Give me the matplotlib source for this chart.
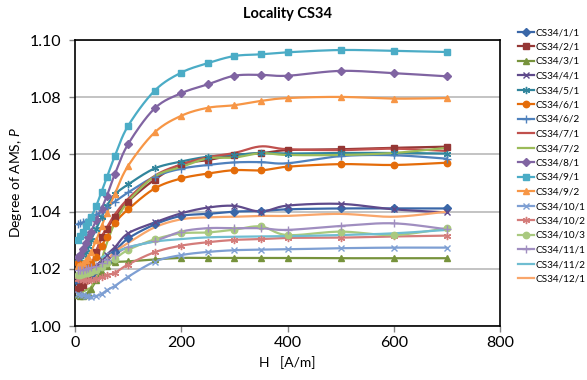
import numpy as np
import matplotlib
matplotlib.use("Agg")
import matplotlib.pyplot as plt
from matplotlib.lines import Line2D

plt.rcParams['font.family'] = ['Lato', 'DejaVu Sans']
plt.rcParams['mathtext.fontset'] = 'custom'
plt.rcParams['mathtext.it'] = 'Lato:italic'
plt.rcParams['mathtext.rm'] = 'Lato'

# applied field steps [A/m]
H = [5, 10, 15, 20, 25, 30, 40, 50, 60, 75, 100, 150, 200, 250, 300, 350, 400, 500, 600, 700]

labels = ["CS34/1/1", "CS34/2/1", "CS34/3/1", "CS34/4/1", "CS34/5/1", "CS34/6/1",
          "CS34/6/2", "CS34/7/1", "CS34/7/2", "CS34/8/1", "CS34/9/1", "CS34/9/2",
          "CS34/10/1", "CS34/10/2", "CS34/10/3", "CS34/11/1", "CS34/11/2", "CS34/12/1"]

p_1_1 = [1.0155, 1.016, 1.0165, 1.017, 1.0175, 1.018, 1.0195, 1.021, 1.0225, 1.026, 1.0306, 1.0355, 1.0385, 1.0392, 1.0400, 1.0402, 1.0408, 1.0411, 1.0411, 1.0411]
p_2_1 = [1.013, 1.0135, 1.0145, 1.016, 1.018, 1.020, 1.026, 1.031, 1.034, 1.038, 1.0435, 1.0512, 1.0565, 1.058, 1.0598, 1.0604, 1.0615, 1.0618, 1.0623, 1.0627]
p_3_1 = [1.0108, 1.0106, 1.0106, 1.0108, 1.0115, 1.0128, 1.016, 1.019, 1.021, 1.0223, 1.0226, 1.0233, 1.0238, 1.0238, 1.0238, 1.0238, 1.0238, 1.0237, 1.0237, 1.0237]
p_4_1 = [1.0175, 1.0177, 1.0179, 1.018, 1.0185, 1.019, 1.021, 1.023, 1.025, 1.0275, 1.0324, 1.0362, 1.0394, 1.0414, 1.042, 1.040, 1.0421, 1.0427, 1.0408, 1.0397]
p_5_1 = [1.0225, 1.0235, 1.025, 1.026, 1.028, 1.030, 1.034, 1.038, 1.042, 1.046, 1.0495, 1.0551, 1.0575, 1.0592, 1.0598, 1.0605, 1.0603, 1.0605, 1.0605, 1.0603]
p_6_1 = [1.022, 1.0215, 1.021, 1.021, 1.0213, 1.022, 1.024, 1.028, 1.031, 1.036, 1.0408, 1.0481, 1.0516, 1.0533, 1.0545, 1.0544, 1.0557, 1.0566, 1.0563, 1.0571]
p_6_2 = [1.0355, 1.036, 1.0362, 1.0365, 1.037, 1.0375, 1.039, 1.040, 1.0415, 1.0435, 1.0467, 1.0522, 1.0550, 1.0563, 1.0572, 1.0573, 1.0569, 1.0594, 1.0597, 1.0585]
p_7_1 = [1.0155, 1.016, 1.0165, 1.0175, 1.019, 1.021, 1.026, 1.031, 1.0345, 1.039, 1.0445, 1.0525, 1.0565, 1.059, 1.0605, 1.0628, 1.0618, 1.0615, 1.062, 1.0612]
p_7_2 = [1.0115, 1.0115, 1.012, 1.0125, 1.013, 1.0135, 1.017, 1.023, 1.029, 1.036, 1.0435, 1.0523, 1.0556, 1.0586, 1.0589, 1.0604, 1.0598, 1.0598, 1.0605, 1.0623]
p_8_1 = [1.024, 1.025, 1.027, 1.029, 1.031, 1.033, 1.037, 1.041, 1.0455, 1.0531, 1.0636, 1.0761, 1.0814, 1.0845, 1.0875, 1.0878, 1.0875, 1.0892, 1.0884, 1.0873]
p_9_1 = [1.030, 1.0315, 1.033, 1.035, 1.0365, 1.038, 1.042, 1.047, 1.052, 1.0594, 1.070, 1.0823, 1.0886, 1.0919, 1.0944, 1.095, 1.0957, 1.0965, 1.0962, 1.0958]
p_9_2 = [1.021, 1.0215, 1.022, 1.023, 1.024, 1.026, 1.030, 1.035, 1.0396, 1.0462, 1.056, 1.0677, 1.0735, 1.0763, 1.0772, 1.0787, 1.0797, 1.0801, 1.0795, 1.0797]
p_10_1 = [1.0113, 1.011, 1.0108, 1.0105, 1.0104, 1.0103, 1.0105, 1.0112, 1.0125, 1.014, 1.0172, 1.0225, 1.0248, 1.0259, 1.0265, 1.0267, 1.0268, 1.0272, 1.0274, 1.0274]
p_10_2 = [1.0165, 1.0165, 1.0162, 1.016, 1.016, 1.016, 1.0165, 1.017, 1.0178, 1.0186, 1.0215, 1.0258, 1.0281, 1.0293, 1.0301, 1.0304, 1.0308, 1.0309, 1.0313, 1.0316]
p_10_3 = [1.018, 1.018, 1.0182, 1.0185, 1.0187, 1.019, 1.0195, 1.0205, 1.022, 1.0235, 1.0266, 1.0303, 1.0324, 1.0327, 1.0337, 1.0348, 1.0318, 1.033, 1.0318, 1.0342]
p_11_1 = [1.0195, 1.0195, 1.0197, 1.020, 1.0202, 1.0205, 1.021, 1.022, 1.023, 1.025, 1.0275, 1.0297, 1.033, 1.0342, 1.0342, 1.0342, 1.0336, 1.035, 1.0359, 1.0338]
p_11_2 = [1.0195, 1.020, 1.0205, 1.021, 1.0215, 1.022, 1.023, 1.024, 1.025, 1.026, 1.0275, 1.0295, 1.0304, 1.031, 1.0312, 1.0313, 1.0314, 1.0318, 1.0324, 1.0336]
p_12_1 = [1.0135, 1.014, 1.0142, 1.0145, 1.015, 1.016, 1.018, 1.021, 1.023, 1.026, 1.029, 1.0345, 1.0373, 1.038, 1.0382, 1.0385, 1.0385, 1.0392, 1.0382, 1.040]

series = [p_1_1, p_2_1, p_3_1, p_4_1, p_5_1, p_6_1, p_6_2, p_7_1, p_7_2,
          p_8_1, p_9_1, p_9_2, p_10_1, p_10_2, p_10_3, p_11_1, p_11_2, p_12_1]

colors = ['#3A67A8', '#953735', '#77933C', '#5F4A8B', '#31859C', '#E46C0A',
          '#4F81BD', '#C0504D', '#9BBB59', '#8064A2', '#4BACC6', '#F79646',
          '#7E9FD3', '#D47C7A', '#A9C97F', '#A08EC0', '#6FBDD1', '#F9A66B']

star = (6, 2, 0)
markers = ['D', 's', '^', 'x', star, 'o', '+', None, None,
           'D', 's', '^', 'x', star, 'o', '+', None, None]
msizes = {'D': 3.8, 's': 4.6, '^': 4.6, 'x': 4.2, star: 5.2, 'o': 4.6, '+': 6, None: 0}


def smooth(ax, x, y, n=16):
    # Catmull-Rom / Bezier smoothing done in display space
    pts = ax.transData.transform(np.column_stack([x, y]))
    out = [pts[0]]
    for i in range(len(pts) - 1):
        p0 = pts[i - 1] if i > 0 else pts[i]
        p1 = pts[i]
        p2 = pts[i + 1]
        p3 = pts[i + 2] if i + 2 < len(pts) else pts[i + 1]
        c1 = p1 + (p2 - p0) / 6.0
        c2 = p2 - (p3 - p1) / 6.0
        t = np.linspace(0, 1, n)[1:, None]
        seg = ((1 - t) ** 3) * p1 + 3 * ((1 - t) ** 2) * t * c1 + 3 * (1 - t) * t ** 2 * c2 + t ** 3 * p2
        out.extend(seg)
    out = ax.transData.inverted().transform(np.array(out))
    return out[:, 0], out[:, 1]


fig = plt.figure(figsize=(5.87, 3.80), dpi=100)
ax = fig.add_axes([75 / 587, 1 - 326 / 380, 425 / 587, 286 / 380])
ax.set_xlim(0, 800)
ax.set_ylim(1.00, 1.10)

handles = []
for vals, lab, col, mk in zip(series, labels, colors, markers):
    sx, sy = smooth(ax, H, vals)
    ax.plot(sx, sy, color=col, lw=1.6, solid_capstyle='round', zorder=3)
    if mk is not None:
        ax.plot(H, vals, ls='none', marker=mk, ms=msizes[mk], color=col,
                mec=col, mew=1.0, zorder=4)
    handles.append(Line2D([], [], color=col, lw=1.6, marker=mk,
                          ms=msizes[mk] if mk else 0, mec=col, mew=1.0))

ax.set_xticks([0, 200, 400, 600, 800])
ax.set_yticks([1.00, 1.02, 1.04, 1.06, 1.08, 1.10])
ax.set_yticklabels(['1.00', '1.02', '1.04', '1.06', '1.08', '1.10'])
ax.tick_params(labelsize=11.5, length=4, width=1, color='#868686', direction='out')
ax.tick_params(axis='y', pad=6)
ax.grid(axis='y', color='#BEBEBE', lw=1.3)
ax.set_axisbelow(True)
for sp in ax.spines.values():
    sp.set_color('#000000')
    sp.set_linewidth(1.2)

ax.set_title('Locality CS34', fontsize=10.5, fontweight='bold', pad=16)
ax.set_xlabel('H   [A/m]', fontsize=10)
ax.set_ylabel('Degree of AMS, $P$', fontsize=10)

fig.legend(handles, labels, loc='upper left', bbox_to_anchor=(518 / 587, 1 - 28 / 380),
           frameon=False, fontsize=7.2, handlelength=1.6, handletextpad=0.1,
           labelspacing=0.55, borderaxespad=0, borderpad=0)

fig.savefig('out.png', dpi=100)
